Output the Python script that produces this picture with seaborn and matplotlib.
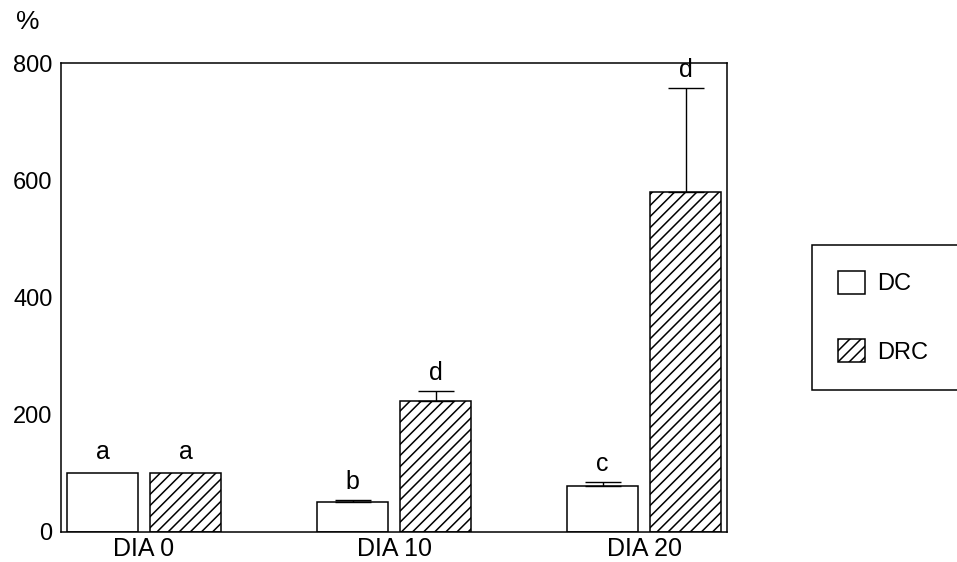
import numpy as np
import pandas as pd
import matplotlib
matplotlib.use("Agg")
import matplotlib.pyplot as plt
import seaborn as sns

# Data
days = ["DIA 0", "DIA 10", "DIA 20"]
groups = ["DC", "DRC"]
dc_values = [100, 50, 77]
drc_values = [100, 223, 580]
dc_errors = [0, 4, 8]
drc_errors = [0, 17, 177]
dc_letters = ["a", "b", "c"]
drc_letters = ["a", "d", "d"]
y_ticks = [0, 200, 400, 600, 800]

sns.set_theme(style="white")
plt.rcParams["font.family"] = ["Liberation Sans", "DejaVu Sans"]
plt.rcParams["text.color"] = "black"
plt.rcParams["hatch.linewidth"] = 1.1
plt.rcParams["hatch.color"] = "black"

df = pd.DataFrame({
    "dia": days * 2,
    "grupo": [groups[0]] * 3 + [groups[1]] * 3,
    "valor": dc_values + drc_values,
})

fig = plt.figure(figsize=(9.57, 5.62), dpi=100, facecolor="white")
ax = fig.add_axes([61 / 957, 1 - 531.5 / 562, (727.3 - 61) / 957, (531.5 - 63.3) / 562])

sns.barplot(data=df, x="dia", y="valor", hue="grupo", order=days, hue_order=groups,
            palette=["white", "white"], edgecolor="black", linewidth=1.1,
            width=0.664, gap=0.145, errorbar=None, legend=False, ax=ax,
            saturation=1)

# hatch the DRC bars
for patch in ax.containers[1]:
    patch.set_hatch("///")

# one-sided error bars (only where there is a spread) and significance letters
for cont, vals, errs, letters in [(ax.containers[0], dc_values, dc_errors, dc_letters),
                                  (ax.containers[1], drc_values, drc_errors, drc_letters)]:
    xs = np.array([p.get_x() + p.get_width() / 2 for p in cont])
    v = np.array(vals, dtype=float)
    e = np.array(errs, dtype=float)
    has_err = e > 0
    ax.errorbar(xs[has_err], v[has_err], yerr=[np.zeros(has_err.sum()), e[has_err]],
                fmt="none", ecolor="black", elinewidth=1.0, capsize=13,
                capthick=1.0, zorder=3)
    for x, vi, ei, lab in zip(xs, v, e, letters):
        ax.annotate(lab, (x, vi + ei), xytext=(0, 8 if ei > 0 else 10),
                    textcoords="offset points", ha="center", va="baseline",
                    fontsize=18, color="black")

ax.set_xlim(-0.332, 2.333)
ax.set_ylim(0, 800)
ax.set_yticks(y_ticks)
ax.set_xlabel("")
ax.set_ylabel("")
ax.tick_params(axis="both", length=0, colors="black")
ax.tick_params(axis="y", pad=6, labelsize=17)
ax.tick_params(axis="x", pad=4, labelsize=18)
for s in ax.spines.values():
    s.set_visible(True)
    s.set_color("black")
    s.set_linewidth(1.1)

fig.text(28 / 957, 1 - 22 / 562, "%", ha="center", va="center", fontsize=19, color="black")

leg = ax.legend([cont[0] for cont in ax.containers], groups,
                loc="upper left", mode="expand",
                bbox_to_anchor=(811.7 / 957, 1 - 390 / 562, 0.2, (390 - 245) / 562),
                bbox_transform=fig.transFigure, borderaxespad=0,
                frameon=True, fancybox=False, edgecolor="black", framealpha=1,
                fontsize=17, handlelength=1.15, handleheight=1.12,
                handletextpad=0.5, labelspacing=1.86, borderpad=1.1,
                labelcolor="black")
leg.get_frame().set_linewidth(1.1)

fig.savefig("out.png", dpi=100, facecolor="white")
